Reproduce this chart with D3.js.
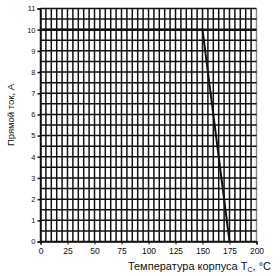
<!DOCTYPE html>
<html>
<head>
<meta charset="utf-8">
<script src="https://cdn.jsdelivr.net/npm/d3@7"></script>
<style>
  body { margin: 0; background: #fff; }
  text { font-family: "Liberation Sans", Arial, sans-serif; fill: #111; }
</style>
</head>
<body>
<svg id="chart" width="280" height="276"></svg>
<script>
// derating curve: current vs case temperature
let tempVals = [0, 150, 175];
let currentVals = [10, 10, 0];
let xTickLabels = [0, 25, 50, 75, 100, 125, 150, 175, 200];
let yTickLabels = [0, 1, 2, 3, 4, 5, 6, 7, 8, 9, 10, 11];

let svg = d3.select("#chart");

let x = d3.scaleLinear().domain([0, 200]).range([40.5, 256.5]);
let y = d3.scaleLinear().domain([0, 11]).range([241.5, 8.5]);

// grid lines: every 5 deg and every 0.5 A
let grid = svg.append("g");
grid.selectAll("line.v")
  .data(d3.range(0, 201, 5))
  .enter().append("line")
  .attr("x1", d => x(d)).attr("x2", d => x(d))
  .attr("y1", y(11)).attr("y2", y(0))
  .attr("stroke", d => d == 200 ? "#888" : "#111")
  .attr("stroke-width", 1.5);

grid.selectAll("line.h")
  .data(d3.range(0, 11.01, 0.5))
  .enter().append("line")
  .attr("x1", x(0)).attr("x2", x(200))
  .attr("y1", d => y(d)).attr("y2", d => y(d))
  .attr("stroke", "#111")
  .attr("stroke-width", d => d == 10 ? 2.5 : 1.5);

// axes
let yAxis = svg.append("g")
  .attr("transform", "translate(" + x(0) + ",0)")
  .call(d3.axisLeft(y).tickValues(yTickLabels).tickSize(3).tickPadding(2));
yAxis.select(".domain").attr("stroke", "#111").attr("stroke-width", 1.5);
yAxis.selectAll("line").attr("stroke", "#111").attr("stroke-width", 1.5);
yAxis.selectAll("text").attr("font-size", 7.5).style("font-family", "Liberation Sans, Arial, sans-serif");

let xAxis = svg.append("g")
  .attr("transform", "translate(0," + y(0) + ")")
  .call(d3.axisBottom(x).tickValues(xTickLabels).tickSize(3).tickPadding(3));
xAxis.select(".domain").attr("stroke", "#111").attr("stroke-width", 1.5);
xAxis.selectAll("line").attr("stroke", "#111");
xAxis.selectAll("text").attr("font-size", 8.5).style("font-family", "Liberation Sans, Arial, sans-serif");

// curve
let line = d3.line().x((d, i) => x(tempVals[i])).y(d => y(d));
svg.append("path")
  .datum(currentVals)
  .attr("d", line)
  .attr("fill", "none")
  .attr("stroke", "#111")
  .attr("stroke-width", 2);

// titles
svg.append("text")
  .attr("transform", "translate(14,115) rotate(-90)")
  .attr("text-anchor", "middle")
  .attr("font-size", 9.5)
  .text("Прямой ток, А");

let xt = svg.append("text")
  .attr("x", 271).attr("y", 270)
  .attr("text-anchor", "end")
  .attr("font-size", 11);
xt.append("tspan").text("Температура корпуса T");
xt.append("tspan").attr("font-size", 7).attr("dy", 2).text("C");
xt.append("tspan").attr("dy", -2).text(", °C");
</script>
</body>
</html>
